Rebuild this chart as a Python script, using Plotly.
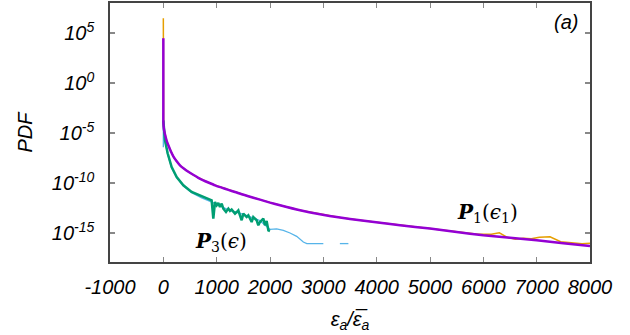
import plotly.graph_objects as go

# ---- data (y given as log10 PDF) ----
x_tick_vals = [-1000, 0, 1000, 2000, 3000, 4000, 5000, 6000, 7000, 8000]
x_tick_text = ["-1000", "0", "1000", "2000", "3000", "4000", "5000", "6000", "7000", "8000"]
y_tick_exp = [5, 0, -5, -10, -15]

# P1 fit (purple)
p1_fit_x = [0, 0, 5, 15, 31, 60, 94, 140, 187, 250, 312, 390, 469, 560, 656, 750, 844, 970, 1094, 1220,
            1344, 1470, 1594, 1813, 2000, 2188, 2563, 2938, 3313, 3688, 4063, 4438, 5000, 5500,
            6000, 6500, 7000, 7500, 8000]
p1_fit_logy = [4.5, -3.7, -4.3, -4.7, -5.1, -5.7, -6.2, -6.8, -7.3, -7.8, -8.2, -8.55, -8.85, -9.15,
               -9.45, -9.7, -9.92, -10.2, -10.43, -10.66, -10.87, -11.1, -11.3, -11.63, -11.93,
               -12.2, -12.7, -13.1, -13.43, -13.7, -13.95, -14.2, -14.53, -14.87, -15.2, -15.45,
               -15.7, -16.0, -16.27]

# P1 data (orange)
p1_data_x = [0, 0, 5, 15, 31, 60, 94, 140, 187, 250, 312, 390, 469, 560, 656, 750, 844, 970, 1094,
             1220, 1344, 1470, 1594, 1813, 2000, 2188, 2563, 2938, 3313, 3688, 4063, 4438, 5000,
             5500, 5900, 6150, 6300, 6450, 6600, 6750, 6900, 7050, 7250, 7450, 7650, 7850, 8000]
p1_data_logy = [6.5, -3.7, -4.3, -4.7, -5.1, -5.7, -6.2, -6.8, -7.3, -7.8, -8.2, -8.55, -8.85, -9.15,
                -9.45, -9.7, -9.92, -10.2, -10.43, -10.66, -10.87, -11.1, -11.3, -11.63, -11.93,
                -12.2, -12.7, -13.1, -13.43, -13.7, -13.95, -14.2, -14.53, -14.87, -15.1, -15.1,
                -14.95, -15.4, -15.6, -15.5, -15.55, -15.4, -15.35, -15.85, -15.95, -16.05, -16.0]

# P3 light blue
p3_lb_x = [0, 0, 0, 31, 81, 156, 250, 375, 531, 719, 900, 1200, 1500, 1800, 2000, 2125, 2250, 2375,
           2500, 2625, 2690, 3000, None, 3310, 3470]
p3_lb_logy = [-3.0, -6.4, -5.0, -5.8, -7.1, -8.45, -9.4, -10.25, -10.95, -11.45, -11.85, -12.6, -13.1,
              -13.7, -14.6, -14.55, -14.7, -14.97, -15.3, -15.87, -16.03, -16.03, None, -16.03, -16.03]

# P3 data (green)
p3_x = [0, 20, 31, 81, 156, 250, 375, 531, 719, 810, 875, 906, 937, 969, 1000, 1031, 1062,
        1094, 1125, 1175, 1219, 1250, 1281, 1344, 1375, 1406, 1437, 1469, 1500, 1562, 1594, 1625,
        1656, 1687, 1750, 1781, 1812, 1875, 1906, 1937, 1969, 2000]
p3_logy = [-3.7, -5.0, -5.7, -7.0, -8.37, -9.37, -10.2, -10.87, -11.3, -11.45, -11.6, -11.7, -13.53,
           -11.87, -12.2, -11.97, -12.37, -12.03, -12.53, -12.87, -12.53, -12.77, -12.63, -13.03,
           -12.87, -12.7, -13.2, -13.7, -13.03, -13.37, -13.2, -13.53, -13.87, -13.37, -13.7, -14.2,
           -13.87, -13.53, -14.2, -13.77, -14.7, -14.77]


def pw(vals):
    return [None if v is None else 10 ** v for v in vals]


fig = go.Figure()
fig.add_trace(go.Scatter(x=p1_data_x, y=pw(p1_data_logy), mode="lines",
                         line=dict(color="#E69F00", width=1.5), showlegend=False))
fig.add_trace(go.Scatter(x=p3_lb_x, y=pw(p3_lb_logy), mode="lines", connectgaps=False,
                         line=dict(color="#56B4E9", width=1.3), showlegend=False))
fig.add_trace(go.Scatter(x=p3_x, y=pw(p3_logy), mode="lines",
                         line=dict(color="#009E73", width=2.5), showlegend=False))
fig.add_trace(go.Scatter(x=p1_fit_x, y=pw(p1_fit_logy), mode="lines", line_shape="spline",
                         line=dict(color="#9400D3", width=2.5, smoothing=0.6), showlegend=False))

tickfont = dict(family="Liberation Sans, Arial", size=20, color="black", style="italic")

fig.update_xaxes(range=[-1000, 8000], tickvals=x_tick_vals, ticktext=x_tick_text,
                 ticks="inside", ticklen=5, tickcolor="#888", mirror="ticks",
                 showline=True, linecolor="#444", linewidth=1.5, showgrid=False, zeroline=False,
                 tickfont=tickfont, ticklabelstandoff=6,
                 title=dict(text="ε<sub>a</sub>/ε̅<sub>a</sub>", font=tickfont, standoff=15))
fig.update_yaxes(type="log", range=[-17.87, 8.03], tickvals=[10 ** e for e in y_tick_exp],
                 ticktext=["10<sup>%d</sup>" % e for e in y_tick_exp],
                 ticks="inside", ticklen=5, tickwidth=1.5, tickcolor="#888", mirror="ticks",
                 showline=True, linecolor="#444", linewidth=1.5, showgrid=False, zeroline=False,
                 tickfont=tickfont, ticklabelstandoff=10,
                 title=dict(text="PDF", font=dict(family="Liberation Sans, Arial", size=20,
                                                  color="black", style="italic"), standoff=14))

mathfont = dict(family="DejaVu Serif, Liberation Serif", size=20, color="black")
fig.add_annotation(x=487, y=213, xref="paper", yref="paper", showarrow=False,
                   text="<b><i>P</i></b><sub>1</sub>(<i>ϵ</i><sub>1</sub>)", font=mathfont)
fig.add_annotation(x=221, y=242, xref="paper", yref="paper", showarrow=False,
                   text="<b><i>P</i></b><sub>3</sub>(<i>ϵ</i>)", font=mathfont)
fig.add_annotation(x=566, y=22, xref="paper", yref="paper", showarrow=False,
                   text="(a)", font=dict(family="Liberation Sans, Arial", size=20, color="black", style="italic"))

fig.update_layout(width=630, height=335, margin=dict(l=110, r=40, t=3, b=73, autoexpand=False),
                  plot_bgcolor="white", paper_bgcolor="white")

# convert pixel-placed annotations to paper coords
L, R, T, B = 110, 590, 3, 262
for a in fig.layout.annotations:
    px, py = a.x, a.y
    a.x = (px - L) / (R - L)
    a.y = (B - py) / (B - T)
    a.xanchor = "center"
    a.yanchor = "middle"

fig.write_html("out.html", config={"displayModeBar": False},
               post_script="document.body.style.margin='0';")
